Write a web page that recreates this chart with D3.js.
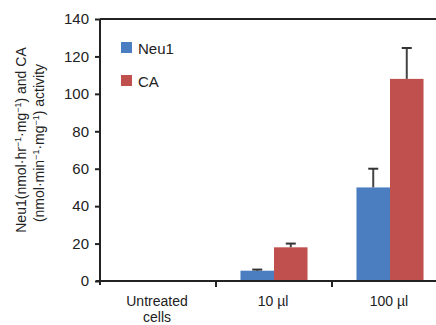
<!DOCTYPE html>
<html>
<head>
<meta charset="utf-8">
<script src="https://cdn.jsdelivr.net/npm/d3@7"></script>
<style>
  body { margin: 0; background: #fff; }
  text { font-family: "Liberation Sans", Arial, sans-serif; fill: #222; }
</style>
</head>
<body>
<svg id="chart" width="436" height="325"></svg>
<script>
// data
var categories = ["Untreated cells", "10 \u00b5l", "100 \u00b5l"];
var seriesNames = ["Neu1", "CA"];
var neu1Values = [0, 5.5, 50];
var neu1Errors = [0, 0.6, 10];
var caValues = [0, 18, 108];
var caErrors = [0, 2, 16.5];
var yTicks = [0, 20, 40, 60, 80, 100, 120, 140];
var colors = ["#4a7ec0", "#c0504d"];

var svg = d3.select("#chart");
var margin = {left: 100, top: 19, bottom: 44};
var width = 436, height = 325;
var plotRight = 448;

var x = d3.scaleBand()
  .domain(categories)
  .range([margin.left, plotRight])
  .paddingInner(0).paddingOuter(0);

var xs = d3.scaleBand()
  .domain(seriesNames)
  .range([0, x.bandwidth()])
  .paddingOuter(0.73).paddingInner(0);

var y = d3.scaleLinear()
  .domain([0, 140])
  .range([height - margin.bottom, margin.top]);

var rows = categories.map(function(c, i) {
  return [
    {cat: c, s: "Neu1", v: neu1Values[i], e: neu1Errors[i]},
    {cat: c, s: "CA", v: caValues[i], e: caErrors[i]}
  ];
});

// bars
var groups = svg.append("g").selectAll("g")
  .data(rows)
  .enter().append("g")
  .attr("transform", function(d) { return "translate(" + x(d[0].cat) + ",0)"; });

groups.selectAll("rect")
  .data(function(d) { return d; })
  .enter().append("rect")
  .attr("x", function(d) { return xs(d.s); })
  .attr("y", function(d) { return y(d.v); })
  .attr("width", xs.bandwidth())
  .attr("height", function(d) { return y(0) - y(d.v); })
  .attr("fill", function(d, i) { return colors[i]; });

// error bars (upper only)
var eb = groups.selectAll("g.err")
  .data(function(d) { return d.filter(function(r) { return r.v > 0; }); })
  .enter().append("g").attr("class", "err");

eb.append("line")
  .attr("x1", function(d) { return xs(d.s) + xs.bandwidth() / 2; })
  .attr("x2", function(d) { return xs(d.s) + xs.bandwidth() / 2; })
  .attr("y1", function(d) { return y(d.v); })
  .attr("y2", function(d) { return y(d.v + d.e); })
  .attr("stroke", "#444").attr("stroke-width", 2);

eb.append("line")
  .attr("x1", function(d) { return xs(d.s) + xs.bandwidth() / 2 - 5; })
  .attr("x2", function(d) { return xs(d.s) + xs.bandwidth() / 2 + 5; })
  .attr("y1", function(d) { return y(d.v + d.e); })
  .attr("y2", function(d) { return y(d.v + d.e); })
  .attr("stroke", "#333").attr("stroke-width", 2);

// y axis
var yAxis = svg.append("g")
  .attr("transform", "translate(" + margin.left + ",0)")
  .call(d3.axisLeft(y).tickValues(yTicks).tickSize(5).tickSizeOuter(0).tickPadding(6));
yAxis.select(".domain").attr("stroke", "#222").attr("stroke-width", 2)
  .attr("d", "M0," + (y(0) + 4) + "V" + y(140));
yAxis.selectAll(".tick line").attr("stroke", "#222").attr("stroke-width", 2);
yAxis.selectAll(".tick text").style("font-size", "15px")
  .style("font-family", "Liberation Sans, Arial, sans-serif").attr("fill", "#222");

// top frame line
svg.append("line")
  .attr("x1", margin.left).attr("x2", width)
  .attr("y1", y(140)).attr("y2", y(140))
  .attr("stroke", "#222").attr("stroke-width", 2);

// x axis
var xAxis = svg.append("g")
  .attr("transform", "translate(0," + y(0) + ")");
xAxis.append("line")
  .attr("x1", margin.left - 4).attr("x2", width)
  .attr("stroke", "#222").attr("stroke-width", 2);
xAxis.selectAll("line.tk")
  .data(categories.slice(1))
  .enter().append("line").attr("class", "tk")
  .attr("x1", function(d) { return x(d); })
  .attr("x2", function(d) { return x(d); })
  .attr("y1", 0).attr("y2", 6)
  .attr("stroke", "#222").attr("stroke-width", 2);

var xl = xAxis.selectAll("text")
  .data(categories)
  .enter().append("text")
  .attr("text-anchor", "middle")
  .attr("x", function(d) { return x(d) + x.bandwidth() / 2; })
  .attr("y", 25)
  .style("font-size", "14px");
xl.each(function(d) {
  var words = d === "Untreated cells" ? ["Untreated", "cells"] : [d];
  var t = d3.select(this);
  words.forEach(function(w, i) {
    t.append("tspan")
      .attr("x", x(d) + x.bandwidth() / 2 - 1)
      .attr("dy", i === 0 ? 0 : 16)
      .text(w);
  });
});

// legend
var legend = svg.append("g").attr("transform", "translate(121,42)");
seriesNames.forEach(function(s, i) {
  var g = legend.append("g").attr("transform", "translate(0," + i * 33 + ")");
  g.append("rect").attr("width", 11).attr("height", 11).attr("fill", colors[i]);
  g.append("text").attr("x", 17).attr("y", 11.5).style("font-size", "15px").text(s);
});

// y label, two rotated lines with superscripts
function ylabLine(cx, cy, parts) {
  var t = svg.append("text")
    .attr("transform", "translate(" + cx + "," + cy + ") rotate(-90)")
    .attr("text-anchor", "middle")
    .style("font-size", "14px");
  parts.forEach(function(p, i) {
    var ts = t.append("tspan").text(p);
    if (i % 2 === 1) ts.attr("baseline-shift", "super").style("font-size", "9px");
  });
}
ylabLine(26, 140, ["Neu1(nmol\u00b7hr", "\u22121", "\u00b7mg", "\u22121", ") and CA"]);
ylabLine(44, 143, ["(nmol\u00b7min", "\u22121", "\u00b7mg", "\u22121", ") activity"]);
</script>
</body>
</html>
